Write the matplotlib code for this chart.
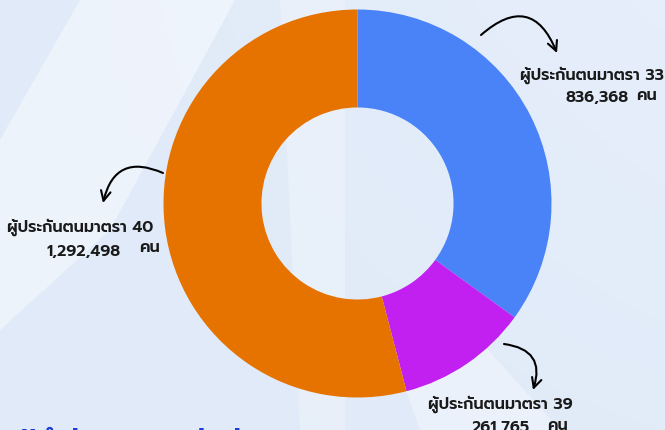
import matplotlib
matplotlib.use("Agg")
import matplotlib.pyplot as plt
from matplotlib import font_manager
from matplotlib.ft2font import FT2Font
from matplotlib.patches import Polygon
import numpy as np

categories = ["ผู้ประกันตนมาตรา 33", "ผู้ประกันตนมาตรา 39", "ผู้ประกันตนมาตรา 40"]
values = [836368, 261765, 1292498]
value_labels = ["836,368", "261,765", "1,292,498"]
unit = "คน"
colors = ["#4A82F8", "#C21FF1", "#E67200"]
footer = "#สำนักงานประกันสังคม"

# pick an installed font that has Thai glyphs
thai_names = set()
for f in font_manager.fontManager.ttflist:
    try:
        if 0x0E1C in FT2Font(f.fname).get_charmap():
            thai_names.add(f.name)
    except Exception:
        pass
font = "DejaVu Sans"
for cand in ["Prompt", "Kanit", "Mitr", "Noto Sans Thai", "Bai Jamjuree", "Athiti", "Loma"]:
    if cand in thai_names:
        font = cand
        break
plt.rcParams["font.family"] = [font, "DejaVu Sans"]

W, H = 665, 430
fig = plt.figure(figsize=(W / 100, H / 100), dpi=100)

# background
bg = fig.add_axes([0, 0, 1, 1], zorder=0)
bg.set_xlim(0, W)
bg.set_ylim(H, 0)
bg.axis("off")
gx = np.linspace(0, 1, 200)
gy = np.linspace(0, 1, 200)
GX, GY = np.meshgrid(gx, gy)
base = np.array([0xE0, 0xEA, 0xF8]) / 255
light = np.array([0xEA, 0xF1, 0xFC]) / 255
t = np.clip(0.6 * GX * (1 - GY) + 0.2 * GY * GX, 0, 1)[..., None]
img = base * (1 - t) + light * t
bg.imshow(img, extent=[0, W, H, 0], aspect="auto", zorder=0)
bg.add_patch(Polygon([[80, 0], [235, 0], [110, 230], [0, 330], [0, 140]],
                     closed=True, color="white", alpha=0.45, lw=0, zorder=1))
bg.add_patch(Polygon([[390, 345], [470, 330], [560, 430], [420, 430]],
                     closed=True, color="white", alpha=0.35, lw=0, zorder=1))
bg.add_patch(Polygon([[280, 0], [345, 0], [345, 430], [300, 430]],
                     closed=True, color="white", alpha=0.25, lw=0, zorder=1))

# donut
cx, cy, r = 357.5, 203.5, 194
ax = fig.add_axes([(cx - r) / W, (H - cy - r) / H, 2 * r / W, 2 * r / H], zorder=2)
ax.pie(values, colors=colors, startangle=90, counterclock=False, radius=1,
       wedgeprops=dict(width=0.505, linewidth=0))
ax.set_xlim(-1, 1)
ax.set_ylim(-1, 1)
ax.axis("off")

# labels
tx = fig.add_axes([0, 0, 1, 1], zorder=3)
tx.set_xlim(0, W)
tx.set_ylim(H, 0)
tx.axis("off")
tx.patch.set_alpha(0)

fs = 11.5
kw = dict(fontsize=fs, fontweight="semibold", color="#1a1a1a", va="baseline")
# section 33
tx.text(664, 80, categories[0], ha="right", **kw)
tx.text(565, 102, value_labels[0], ha="left", **kw)
tx.text(636, 100, unit, ha="left", **kw)
# section 40
tx.text(7, 232, categories[2], ha="left", **kw)
tx.text(46, 256, value_labels[2], ha="left", **kw)
tx.text(139, 252, unit, ha="left", **kw)
# section 39
tx.text(428, 409, categories[1], ha="left", **kw)
tx.text(472, 432, value_labels[1], ha="left", **kw)
tx.text(547, 430, unit, ha="left", **kw)

tx.text(14, 449, footer, ha="left", va="baseline", fontsize=20,
        fontweight="bold", color="#1D3ED6")

aprops = dict(arrowstyle="->,head_length=0.7,head_width=0.35", color="black", lw=1.5,
              shrinkA=0, shrinkB=0)
tx.annotate("", xy=(557, 53), xytext=(481, 35),
            arrowprops=dict(connectionstyle="arc3,rad=-0.7", **aprops))
tx.annotate("", xy=(103, 203), xytext=(163, 173),
            arrowprops=dict(connectionstyle="arc3,rad=0.6", **aprops))
tx.annotate("", xy=(533, 390), xytext=(504, 344),
            arrowprops=dict(connectionstyle="arc3,rad=-0.6", **aprops))

fig.savefig("out.png", dpi=100)
